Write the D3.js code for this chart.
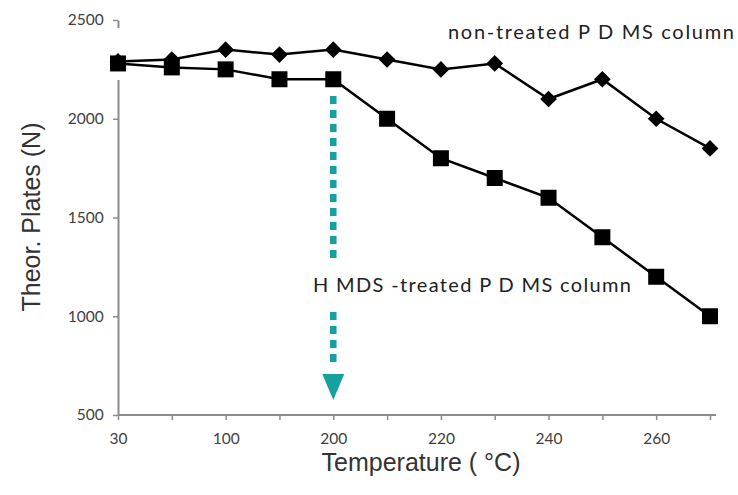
<!DOCTYPE html>
<html>
<head>
<meta charset="utf-8">
<script src="https://cdn.jsdelivr.net/npm/d3@7"></script>
<style>
  body { margin: 0; background: #fff; }
  svg { display: block; }
</style>
</head>
<body>
<svg></svg>
<script>
// x categories (only every other one is labelled)
const tickLabels = ["30", "", "100", "", "200", "", "220", "", "240", "", "260", ""];
const yTicks = [500, 1000, 1500, 2000, 2500];

// theoretical plates for each column
const nonTreated = [2290, 2300, 2350, 2325, 2350, 2300, 2250, 2280, 2100, 2200, 2000, 1850];
const hmdsTreated = [2280, 2260, 2250, 2200, 2200, 2000, 1800, 1700, 1600, 1400, 1200, 1000];

const width = 738, height = 495;
const svg = d3.select("svg").attr("width", width).attr("height", height);

const x = d3.scalePoint()
  .domain(d3.range(tickLabels.length))
  .range([118, 710]);

const y = d3.scaleLinear()
  .domain([500, 2500])
  .range([415, 20]);

const axisColor = "#8c8c8c";
const labelFont = "Lato, 'Open Sans', sans-serif";

// x axis
const gx = svg.append("g")
  .attr("transform", `translate(0,${y(500)})`)
  .call(d3.axisBottom(x).tickSizeInner(5).tickSizeOuter(0).tickFormat(i => tickLabels[i]));
gx.select(".domain").attr("d", `M${x(0)},0H716`);

// y axis
const gy = svg.append("g")
  .attr("transform", `translate(${x(0)},0)`)
  .call(d3.axisLeft(y).tickValues(yTicks).tickSizeInner(5).tickSizeOuter(0).tickFormat(d3.format("d")));

[gx, gy].forEach(g => {
  g.select(".domain").attr("stroke", axisColor).attr("stroke-width", 2);
  g.selectAll(".tick line").attr("stroke", axisColor).attr("stroke-width", 1.5);
  g.selectAll(".tick text")
    .attr("fill", "#404040")
    .style("font-family", labelFont)
    .style("font-size", "15.5px");
});
gx.selectAll(".tick text").attr("dy", "1.35em");
gy.selectAll(".tick text").attr("dx", "-0.4em");

// gap in the y axis line near the top
svg.append("rect")
  .attr("x", x(0) - 3).attr("y", 28)
  .attr("width", 6).attr("height", 52)
  .attr("fill", "#fff");

// teal dotted arrow at 200
const teal = "#17a0a0";
const ax = x(4);
svg.append("line")
  .attr("x1", ax).attr("x2", ax)
  .attr("y1", 96).attr("y2", 258)
  .attr("stroke", teal).attr("stroke-width", 6.5)
  .attr("stroke-dasharray", "8 6");
svg.append("line")
  .attr("x1", ax).attr("x2", ax)
  .attr("y1", 312).attr("y2", 368)
  .attr("stroke", teal).attr("stroke-width", 6.5)
  .attr("stroke-dasharray", "8 6");
svg.append("path")
  .attr("d", `M${ax - 11},374L${ax + 11},374L${ax},400Z`)
  .attr("fill", teal);

// series lines
const line = d3.line()
  .x((d, i) => x(i))
  .y(d => y(d));

svg.append("path")
  .datum(nonTreated)
  .attr("d", line)
  .attr("fill", "none")
  .attr("stroke", "#000")
  .attr("stroke-width", 2.5);

svg.append("path")
  .datum(hmdsTreated)
  .attr("d", line)
  .attr("fill", "none")
  .attr("stroke", "#000")
  .attr("stroke-width", 2.5);

// markers
svg.append("g").selectAll("path")
  .data(nonTreated)
  .join("path")
  .attr("d", d3.symbol(d3.symbolSquare, 140))
  .attr("transform", (d, i) => `translate(${x(i)},${y(d)}) rotate(45)`)
  .attr("fill", "#000");

svg.append("g").selectAll("rect")
  .data(hmdsTreated)
  .join("rect")
  .attr("x", (d, i) => x(i) - 8)
  .attr("y", d => y(d) - 8)
  .attr("width", 16)
  .attr("height", 16)
  .attr("fill", "#000");

// annotations
svg.append("text")
  .attr("x", 448).attr("y", 39)
  .attr("fill", "#222")
  .attr("textLength", 286)
  .attr("lengthAdjust", "spacing")
  .style("font-family", labelFont)
  .style("font-size", "20px")
  .text("non-treated P D MS  column");

svg.append("text")
  .attr("x", 313).attr("y", 292)
  .attr("fill", "#222")
  .attr("textLength", 318)
  .attr("lengthAdjust", "spacing")
  .style("font-family", labelFont)
  .style("font-size", "20px")
  .text("H MDS -treated P D MS  column");

// axis titles
svg.append("text")
  .attr("x", 421).attr("y", 471)
  .attr("text-anchor", "middle")
  .attr("fill", "#333")
  .style("font-family", "'Liberation Sans', Arial, sans-serif")
  .style("font-size", "25px")
  .text("Temperature ( °C)");

svg.append("text")
  .attr("transform", "translate(40,217) rotate(-90)")
  .attr("text-anchor", "middle")
  .attr("fill", "#333")
  .style("font-family", "'Liberation Sans', Arial, sans-serif")
  .style("font-size", "25px")
  .text("Theor. Plates (N)");
</script>
</body>
</html>
